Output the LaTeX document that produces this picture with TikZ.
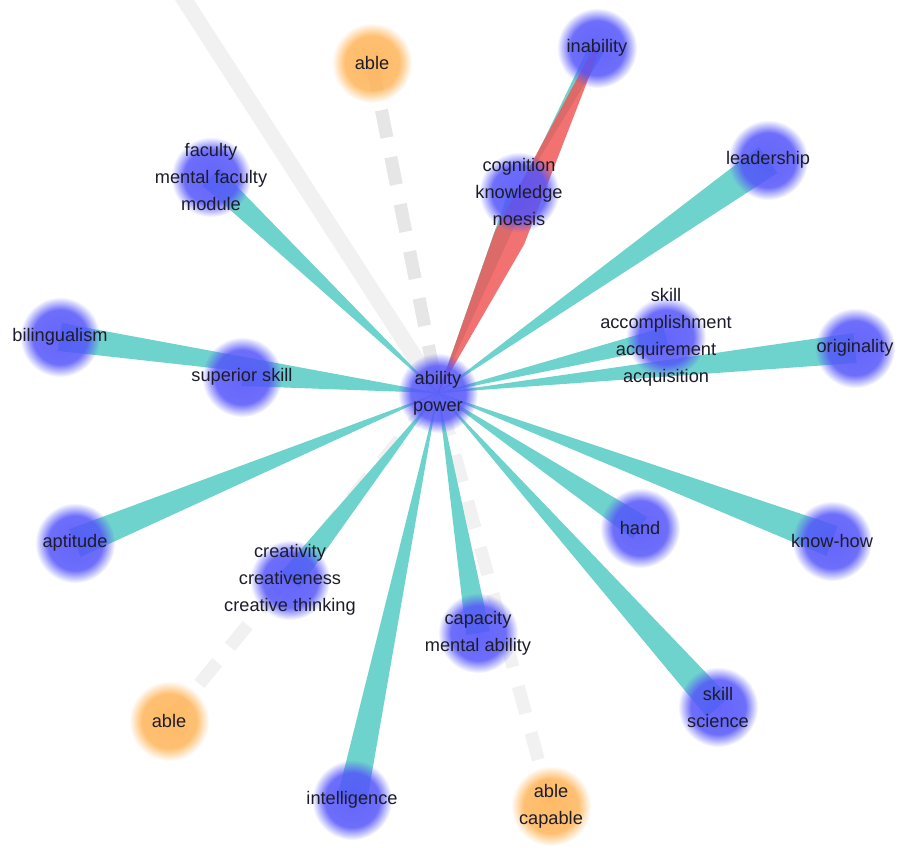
\documentclass[tikz,border=0pt]{standalone}
\usepackage{fontspec}
\setmainfont{Liberation Sans}
\usetikzlibrary{calc,fadings}

\definecolor{spoketeal}{RGB}{110,210,205}
\definecolor{spokered}{RGB}{240,88,88}
\definecolor{blobblue}{RGB}{84,84,250}
\definecolor{bloborange}{RGB}{255,180,88}
\definecolor{ghostgray}{RGB}{230,230,230}
\definecolor{ghostlight}{RGB}{241,241,241}
\definecolor{wordgray}{RGB}{28,28,42}

\pgfdeclarelayer{edges}
\pgfdeclarelayer{blobs}
\pgfsetlayers{edges,blobs,main}

% soft disc for the word blobs
\pgfdeclareradialshading{softdiskshade}{\pgfpointorigin}{%
  color(0bp)=(pgftransparent!0); color(17bp)=(pgftransparent!6);
  color(25bp)=(pgftransparent!100); color(50bp)=(pgftransparent!100)}
\pgfdeclarefading{softdisk}{\pgfuseshading{softdiskshade}}

% tapered connector: thin at #2, wide (half width #4) at #3
\newcommand\spoke[4][spoketeal]{%
  \fill[#1] (#2.center) -- ($(#3.center)!#4!90:(#2.center)$)
    -- ($(#3.center)!#4!-90:(#2.center)$) -- cycle;}

\begin{document}
\begin{tikzpicture}[x=1pt,y=-1pt,
    word/.style={circle, minimum size=80pt, inner sep=0pt, align=center,
      text=wordgray, font=\fontsize{18.2}{27}\selectfont},
    blob/.style={fill=blobblue, fill opacity=0.9, path fading=softdisk},
    orangeblob/.style={blob, fill=bloborange},
    ghost/.style={draw=ghostgray, line width=13pt, dash pattern=on 28pt off 20pt}]
  \useasboundingbox (0,0) rectangle (909,847);

  % words
  \node[word] (pw) at (438,393) {ability\\power};
  \node[word] (inab) at (597,48) {inability};
  \node[word] (ableA) at (372,63) {able};
  \node[word] (fac) at (211,177) {faculty\\mental faculty\\module};
  \node[word] (cog) at (519,192) {cognition\\knowledge\\noesis};
  \node[word] (lead) at (768,160) {leadership};
  \node[word] (skl) at (666,337) {skill\\accomplishment\\acquirement\\acquisition};
  \node[word] (orig) at (855,348) {originality};
  \node[word] (biling) at (60,337) {bilingualism};
  \node[word] (sup) at (242,377) {superior skill};
  \node[word] (apt) at (75,543) {aptitude};
  \node[word] (crea) at (290,580) {creativity\\creativeness\\creative thinking};
  \node[word] (cap) at (478,633) {capacity\\mental ability};
  \node[word] (hand) at (640,528) {hand};
  \node[word] (know) at (832,541) {know-how};
  \node[word] (sci) at (718,707) {skill\\science};
  \node[word] (ableB) at (169,721) {able};
  \node[word] (intel) at (352,800) {intelligence};
  \node[word] (ableC) at (551,806) {able\\capable};
  \coordinate (offA) at (178,-10);

  \begin{pgfonlayer}{edges}
    % antonym links
    \draw[ghostlight, line width=16pt] (offA) -- (pw.center);
    \draw[ghost] (ableA.center) -- (pw.center);
    \draw[ghost, draw=ghostlight] (ableB.center) -- (pw.center);
    \draw[ghost, draw=ghostlight] (ableC.center) -- (pw.center);

    % synonym links
    \spoke{pw}{fac}{12pt}
    \spoke{pw}{cog}{10pt}
    \spoke{cog}{inab}{8pt}
    \spoke{pw}{lead}{16pt}
    \spoke{pw}{skl}{10pt}
    \spoke{pw}{orig}{15pt}
    \spoke{pw}{biling}{14pt}
    \spoke{pw}{sup}{9pt}
    \spoke{pw}{apt}{15pt}
    \spoke{pw}{crea}{12pt}
    \spoke{pw}{cap}{12pt}
    \spoke{pw}{intel}{15pt}
    \spoke{pw}{hand}{13pt}
    \spoke{pw}{know}{16pt}
    \spoke{pw}{sci}{15pt}

    % contrast link
    \coordinate (redmid) at ($(pw.center)!0.45!(inab.center)$);
    \fill[spokered, fill opacity=0.85] (pw.center)
      -- ($(redmid)!16pt!90:(inab.center)$)
      -- ($(inab.center)!3pt!-90:(pw.center)$)
      -- ($(inab.center)!3pt!90:(pw.center)$)
      -- ($(redmid)!16pt!-90:(inab.center)$) -- cycle;
  \end{pgfonlayer}

  \begin{pgfonlayer}{blobs}
    \foreach \n in {pw,inab,fac,cog,lead,skl,orig,biling,sup,apt,crea,cap,hand,know,sci,intel}
      \fill[blob] (\n.center) circle (40pt);
    \foreach \n in {ableA,ableB,ableC}
      \fill[orangeblob] (\n.center) circle (40pt);
  \end{pgfonlayer}
\end{tikzpicture}
\end{document}
